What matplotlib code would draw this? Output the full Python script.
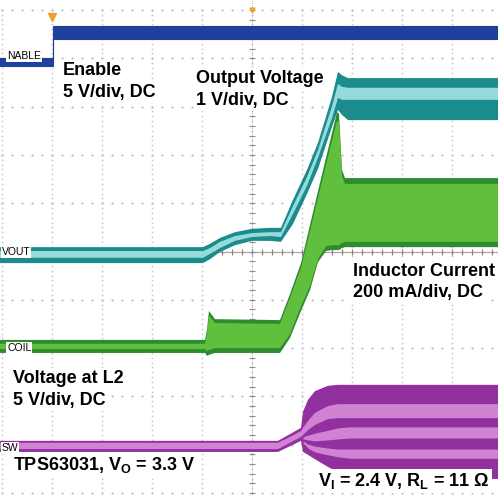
import numpy as np
import matplotlib.pyplot as plt

plt.rcParams['font.family'] = ['Liberation Sans', 'DejaVu Sans']
plt.rcParams['mathtext.fontset'] = 'custom'
plt.rcParams['mathtext.rm'] = 'Liberation Sans:bold'
plt.rcParams['mathtext.it'] = 'Liberation Sans:bold'
plt.rcParams['mathtext.bf'] = 'Liberation Sans:bold'

# scope screen, everything in divisions (10 across, 10 high, 0 at bottom)

# Enable, 5 V/div
en_t = [-0.1, 1.02, 1.02, 10]
en_hi = [9.01, 9.01, 9.67, 9.67]
en_lo = [8.84, 8.84, 9.40, 9.40]

# Output voltage, 1 V/div  (envelope + bright core)
vout_t = [-0.1, 4.02, 4.16, 4.36, 4.66, 5.00, 5.36, 5.58, 5.82, 6.10, 6.32, 6.60, 6.72, 6.80, 6.92, 10]
vout_hi = [5.09, 5.09, 5.16, 5.28, 5.40, 5.47, 5.49, 5.49, 6.07, 6.69, 7.25, 8.20, 8.72, 8.65, 8.59, 8.59]
vout_lo = [4.76, 4.76, 4.84, 4.99, 5.13, 5.22, 5.22, 5.20, 5.57, 6.19, 6.71, 7.58, 7.93, 7.83, 7.72, 7.72]
vout_core_hi = [5.01, 5.01, 5.07, 5.20, 5.32, 5.38, 5.40, 5.40, 5.94, 6.54, 7.10, 8.01, 8.47, 8.41, 8.39, 8.39]
vout_core_lo = [4.87, 4.87, 4.95, 5.07, 5.22, 5.30, 5.32, 5.30, 5.78, 6.36, 6.94, 7.76, 8.18, 8.14, 8.14, 8.14]

# Inductor current, 200 mA/div
coil_t = [-0.1, 4.06, 4.10, 4.14, 4.26, 5.56, 5.76, 5.98, 6.16, 6.32, 6.48, 6.60, 6.70, 6.74, 6.80, 6.86, 10]
coil_hi = [3.17, 3.17, 3.38, 3.77, 3.60, 3.58, 4.12, 4.76, 5.55, 6.25, 6.94, 7.45, 7.89, 7.85, 6.69, 6.52, 6.52]
coil_lo = [2.90, 2.90, 2.84, 2.86, 2.90, 2.90, 3.21, 3.77, 4.20, 4.78, 5.01, 5.03, 5.03, 5.03, 5.07, 5.09, 5.09]
coil_core_hi = [3.09, 3.09, 3.29, 3.67, 3.52, 3.50, 4.04, 4.66, 5.42, 6.11, 6.79, 7.29, 7.70, 7.68, 6.56, 6.40, 6.40]
coil_core_lo = [2.98, 2.98, 2.94, 2.96, 3.00, 3.00, 3.29, 3.87, 4.29, 4.84, 5.11, 5.13, 5.13, 5.13, 5.18, 5.20, 5.20]

# Voltage at L2 (SW), 5 V/div  (envelope + three bright bands)
nan = np.nan
sw_t = [-0.1, 5.52, 5.76, 5.98, 6.02, 6.12, 6.26, 6.52, 6.72, 6.96, 10]
sw_hi = [1.08, 1.08, 1.22, 1.35, 1.68, 1.93, 2.11, 2.22, 2.24, 2.24, 2.24]
sw_lo = [0.85, 0.85, 0.97, 1.08, 0.85, 0.79, 0.70, 0.54, 0.43, 0.31, 0.29]
sw_b1_hi = [1.04, 1.04, 1.16, 1.28, 1.35, 1.49, 1.66, 1.80, 1.84, 1.84, 1.84]
sw_b1_lo = [0.91, 0.91, 1.04, 1.16, 1.20, 1.30, 1.41, 1.53, 1.55, 1.55, 1.55]
sw_b2_hi = [nan, nan, nan, nan, 1.16, 1.20, 1.24, 1.30, 1.35, 1.37, 1.37]
sw_b2_lo = [nan, nan, nan, nan, 1.12, 1.10, 1.08, 1.10, 1.12, 1.14, 1.14]
sw_b3_hi = [nan, nan, nan, nan, 1.08, 1.01, 0.97, 0.93, 0.91, 0.91, 0.91]
sw_b3_lo = [nan, nan, nan, nan, 1.04, 0.93, 0.85, 0.79, 0.75, 0.72, 0.72]

fig = plt.figure(figsize=(4.98, 4.95), dpi=100)
ax = fig.add_axes([0, 0, 1, 1])
ax.set_xlim(-0.04, 9.92)
ax.set_ylim(-0.041, 10.207)
ax.axis('off')

# graticule
xs = np.arange(0, 10.01, 0.2)
ys = np.arange(0, 10.01, 0.1)
for g in range(11):
    ax.plot(xs, np.full_like(xs, g), ls='none', marker='s', ms=1.3, mec='none', mfc='#b4b4b4', zorder=1)
    ax.plot(np.full_like(ys, g), ys, ls='none', marker='s', ms=1.1, mec='none', mfc='#c4c4c4', zorder=1)
ax.axhline(5, color='#b3a0a0', lw=0.9, zorder=1)
ax.plot(xs, np.full_like(xs, 5), ls='none', marker='|', ms=4, mew=0.8, color='#8c7c7c', zorder=1)
ax.axvline(5, color='#a0a0a0', lw=0.6, ls=(0, (1, 1.5)), zorder=1)
yt = np.arange(0, 10.01, 0.2)
ax.plot(np.full_like(yt, 5), yt, ls='none', marker='_', ms=4, mew=0.8, color='#8c8c8c', zorder=1)

# traces
ax.fill_between(en_t, en_lo, en_hi, color='#20409e', lw=0.8, zorder=3)

ax.fill_between(coil_t, coil_lo, coil_hi, color='#2e8c30', lw=0, zorder=3)
ax.fill_between(coil_t, coil_core_lo, coil_core_hi, color='#60c03e', lw=0, zorder=3)

ax.fill_between(vout_t, vout_lo, vout_hi, color='#1c8b8b', lw=0, zorder=4)
ax.fill_between(vout_t, vout_core_lo, vout_core_hi, color='#96dbdb', lw=0, zorder=4)

ax.fill_between(sw_t, sw_lo, sw_hi, color='#93309f', lw=0, zorder=3)
for hi, lo in [(sw_b1_hi, sw_b1_lo), (sw_b2_hi, sw_b2_lo), (sw_b3_hi, sw_b3_lo)]:
    ax.fill_between(sw_t, lo, hi, color='#d083d2', lw=0, zorder=3)

# trigger / position markers
ax.plot([1.0], [9.86], marker='v', ms=6, color='#f0a030', zorder=5)
ax.plot([5.0], [10.0], marker='v', ms=3.5, color='#f0a030', zorder=5)

# channel tags at left edge
box = dict(facecolor='white', edgecolor='none', pad=0.5)
tags = [('NABLE', 0.10, 9.04), ('VOUT', 0.0, 4.99), ('COIL', 0.10, 3.00), ('SW', 0.0, 0.93)]
for txt, x, y in tags:
    ax.text(x, y, txt, fontsize=7.5, family=['Liberation Sans Narrow', 'Liberation Sans'],
            ha='left', va='center', color='black', bbox=box, zorder=8)

# annotations
tb = dict(facecolor='white', edgecolor='none', pad=1.5)
labels = [
    ('Enable', 1.22, 8.654), ('5 V/div, DC', 1.22, 8.199),
    ('Output Voltage', 3.88, 8.489), ('1 V/div, DC', 3.88, 8.033),
    ('Inductor Current', 7.02, 4.493), ('200 mA/div, DC', 7.02, 4.058),
    ('Voltage at L2', 0.22, 2.277), ('5 V/div, DC', 0.22, 1.822),
    (r'TPS63031, V$_\mathrm{O}$ = 3.3 V', 0.22, 0.476),
    (r'V$_\mathrm{I}$ = 2.4 V, R$_\mathrm{L}$ = 11 Ω', 6.32, 0.145),
]
for txt, x, y in labels:
    ax.text(x, y, txt, fontsize=13, fontweight='bold', ha='left', va='baseline',
            color='black', bbox=tb, zorder=10)

fig.savefig('out.png', dpi=100, facecolor='white')
